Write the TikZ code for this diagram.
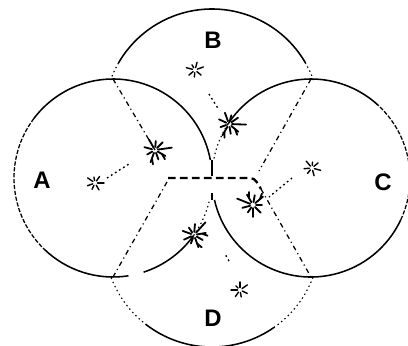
\documentclass[tikz,border=0pt]{standalone}
\usepackage{fontspec}
\setsansfont{Liberation Sans}
\usetikzlibrary{calc}

\begin{document}
\begin{tikzpicture}[x=0.025cm,y=0.025cm,
  rim/.style={line width=1.1pt},
  fade/.style={line width=0.9pt,dash pattern=on 3pt off 1.2pt},
  ghost/.style={line width=0.8pt,dash pattern=on 1pt off 2.2pt},
  border/.style={line width=0.9pt,dash pattern=on 3.5pt off 2.5pt on 0.8pt off 2.5pt},
  split/.style={line width=1.6pt,dash pattern=on 5.5pt off 3pt},
  link/.style={line width=1pt,dash pattern=on 1.2pt off 2.2pt},
  ray/.style={line width=1pt,line cap=round},
  bigray/.style={line width=1.3pt,line cap=round},
  lab/.style={font=\sffamily\bfseries\fontsize{17}{19}\selectfont,inner sep=0pt},
  smallburst/.pic={
    \foreach \a/\l in {0/9,55/8,100/6,145/9,200/8,245/7,300/8}
      \draw[ray] (\a:2.5) -- (\a:\l);},
  bigburst/.pic={
    \foreach \a/\l in {8/17,45/11,85/9,120/12,165/11,210/9,250/13,290/10,330/12}
      \draw[bigray] (\a:3) -- (\a:\l);
    \draw[bigray] (250:9) -- ++(280:6) (330:8) -- ++(300:6);}]
  \useasboundingbox (0,0) rectangle (408,345);

  \coordinate (cA) at (113,167);
  \coordinate (cB) at (212,228);
  \coordinate (cC) at (311,167);
  \coordinate (cD) at (212,106);

  \draw[rim] (cA) ++(10.5:99) arc[start angle=10.5,end angle=143,radius=99];
  \draw[fade] (cA) ++(143:99) arc[start angle=143,end angle=226,radius=99];
  \draw[rim] (cA) ++(226:99) arc[start angle=226,end angle=279,radius=99];
  \draw[rim] (cA) ++(288:99) arc[start angle=288,end angle=324.5,radius=99];
  \draw[ghost] (cA) ++(324.5:99) arc[start angle=324.5,end angle=347,radius=99];

  \draw[rim] (cC) ++(47:99) arc[start angle=47,end angle=147,radius=99];
  \draw[ghost] (cC) ++(147:99) arc[start angle=147,end angle=169.5,radius=99];
  \draw[rim] (cC) ++(192.8:99) arc[start angle=192.8,end angle=335,radius=99];
  \draw[fade] (cC) ++(-25:99) arc[start angle=-25,end angle=47,radius=99];

  \draw[rim] (cB) ++(30:108) arc[start angle=30,end angle=150,radius=108];
  \draw[ghost] (cB) ++(150:108) arc[start angle=150,end angle=160,radius=108];
  \draw[ghost] (cB) ++(20:108) arc[start angle=20,end angle=30,radius=108];

  \draw[rim] (cD) ++(232:108) arc[start angle=232,end angle=305,radius=108];
  \draw[ghost] (cD) ++(201:108) arc[start angle=201,end angle=232,radius=108];
  \draw[ghost] (cD) ++(305:108) arc[start angle=305,end angle=339,radius=108];

  \coordinate (topA) at (113,266);
  \coordinate (botA) at (113,68);
  \coordinate (topC) at (311,266);
  \coordinate (botC) at (311,68);
  \coordinate (sA) at (95,162);
  \coordinate (sB) at (195,275);
  \coordinate (sC) at (312,177);
  \coordinate (sD) at (240,55);
  \coordinate (n1) at (155,195);
  \coordinate (n2) at (229,221);
  \coordinate (n3) at (253,140);
  \coordinate (n4) at (194,110);
  \coordinate (cutL) at (168,167);
  \coordinate (cutR) at (250,167);
  \coordinate (hook) at (261,156);
  \coordinate (endR) at (259,174);
  \coordinate (stemT) at (212,185);
  \coordinate (stemB) at (212,145);

  \draw[split] (cutL) -- (cutR) to[out=0,in=125] (hook);
  \draw[rim] (stemT) -- ++(0,-16);
  \draw[rim] (stemB) -- ++(0,7);
  \draw[border] (topA) -- (n1);
  \draw[border] (cutL) ++(-1,-4) -- (botA);
  \draw[border] (topC) -- (endR);
  \draw[border] (hook) -- (botC);

  \draw[link] (sA) ++(12,5) -- ($(n1)+(-26,-14)$);
  \draw[link] (sC) ++(-20,-10) -- ($(n3)+(16,8)$);
  \draw[link] (sB) ++(14,-24) -- ($(n2)+(-10,14)$);
  \draw[link] (sD) ++(-11,29) -- ++(-4,7);

  \pic at (sA) {smallburst};
  \pic[rotate=20] at (sB) {smallburst};
  \pic[rotate=-15] at (sC) {smallburst};
  \pic[rotate=35] at (sD) {smallburst};
  \pic at (n1) {bigburst};
  \pic[rotate=-10] at (n2) {bigburst};
  \pic[rotate=150] at (n3) {bigburst};
  \pic[rotate=40] at (n4) {bigburst};

  \node[lab] (labA) at (42,165) {A};
  \node[lab] (labB) at (213,305) {B};
  \node[lab] (labC) at (383,163) {C};
  \node[lab] (labD) at (213,27) {D};
\end{tikzpicture}
\end{document}
